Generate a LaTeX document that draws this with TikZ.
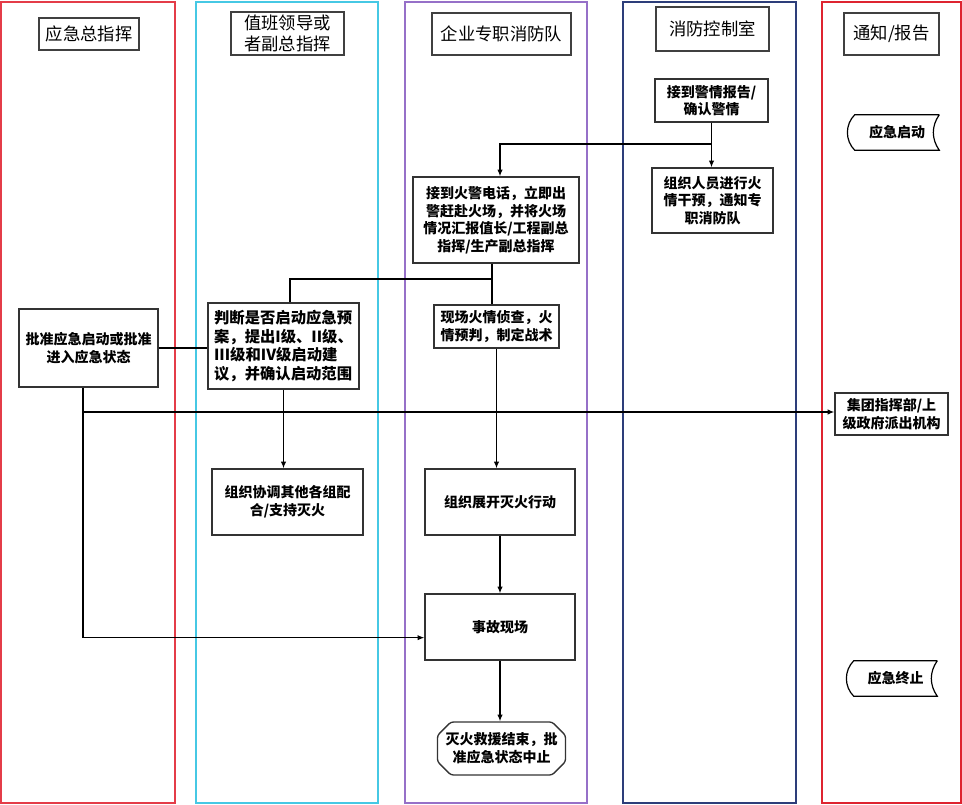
\documentclass[tikz,border=0pt]{standalone}
\usepackage{fontspec}
\setmainfont{Noto Sans CJK SC}
\usetikzlibrary{arrows.meta,shapes.misc}
\definecolor{laneA}{RGB}{228,60,72}
\definecolor{laneB}{RGB}{70,200,228}
\definecolor{laneC}{RGB}{150,112,200}
\definecolor{laneD}{RGB}{45,62,122}
\definecolor{laneE}{RGB}{222,36,48}
\begin{document}
\begin{tikzpicture}[x=0.75pt,y=-0.75pt,
    lane/.style={line width=1.4pt},
    head/.style={draw=black!75, line width=0.9pt, inner sep=1pt, align=center,
      font=\fontsize{13}{16}\selectfont},
    box/.style={draw=black!80, line width=1pt, inner sep=1pt, align=center,
      font=\fontsize{10.5}{13.2}\selectfont\bfseries},
    tag/.style={inner sep=1pt, font=\fontsize{10.5}{13.2}\selectfont\bfseries},
    link/.style={line width=0.9pt},
    arr/.style={link, -{Latex[length=5pt,width=4pt]}}]
    \useasboundingbox (0,0) rectangle (962,805);

    % swim lanes
    \draw[lane, laneA] (1,2) rectangle (175,803);
    \draw[lane, laneB] (196,2) rectangle (378,803);
    \draw[lane, laneC] (405,2) rectangle (587,803);
    \draw[lane, laneD] (623,2) rectangle (796,803);
    \draw[lane, laneE] (822,2) rectangle (961,803);

    % lane titles
    \node[head, minimum width=75pt, minimum height=24pt] (h1) at (89,34) {应急总指挥};
    \node[head, minimum width=84.75pt, minimum height=32.25pt] (h2) at (287.5,33.5) {值班领导或\\者副总指挥};
    \node[head, minimum width=104.25pt, minimum height=31.5pt] (h3) at (501.5,34) {企业专职消防队};
    \node[head, minimum width=84.75pt, minimum height=33pt] (h4) at (712.5,29) {消防控制室};
    \node[head, minimum width=71.25pt, minimum height=31.5pt] (h5) at (891.5,34) {通知/报告};

    % steps
    \node[box, minimum width=84.75pt, minimum height=32.25pt] (alarm) at (711.5,100.5) {接到警情报告/\\确认警情};
    \node[box, minimum width=124.5pt, minimum height=64.5pt] (call) at (496,220) {接到火警电话，立即出\\警赶赴火场，并将火场\\情况汇报值长/工程副总\\指挥/生产副总指挥};
    \node[box, minimum width=90.75pt, minimum height=48.75pt] (organize) at (712.5,200.5) {组织人员进行火\\情干预，通知专\\职消防队};
    \node[box, minimum width=104.25pt, minimum height=58.5pt] (approve) at (88.5,348) {批准应急启动或批准\\进入应急状态};
    \node[box, align=left, font=\fontsize{11.5}{14}\selectfont\bfseries, minimum width=113.25pt, minimum height=64.5pt] (judge) at (283.5,346) {判断是否启动应急预\\案，提出I级、II级、\\III级和IV级启动建\\议，并确认启动范围};
    \node[box, align=left, minimum width=93.75pt, minimum height=32.25pt] (scout) at (496.5,326.5) {现场火情侦查，火\\情预判，制定战术};
    \node[box, minimum width=84.75pt, minimum height=31.5pt] (group) at (891.5,414) {集团指挥部/上\\级政府派出机构};
    \node[box, minimum width=113.25pt, minimum height=49.5pt] (coord) at (287.5,502) {组织协调其他各组配\\合/支持灭火};
    \node[box, minimum width=112.5pt, minimum height=49.5pt] (fight) at (500,502) {组织展开灭火行动};
    \node[box, minimum width=112.5pt, minimum height=49.5pt] (scene) at (500,627) {事故现场};
    \node[box, chamfered rectangle, chamfered rectangle xsep=5pt, chamfered rectangle ysep=5pt,
      rounded corners=2pt, minimum width=92.25pt, minimum height=39.75pt] (finish) at (501.5,748.5) {灭火救援结束，批\\准应急状态中止};

    % start and end tags
    \node[tag, minimum width=63pt, minimum height=26.25pt] (start) at (897,132.5) {应急启动};
    \node[tag, minimum width=62.25pt, minimum height=26.25pt] (stop) at (895.5,678.5) {应急终止};
    \draw[link] (start.north east) -- (start.north west) to[bend right=45] (start.south west)
      -- (start.south east) to[bend left=35] (start.north east);
    \draw[link] (stop.north east) -- (stop.north west) to[bend right=45] (stop.south west)
      -- (stop.south east) to[bend left=35] (stop.north east);

    % junctions
    \coordinate (j1) at (500,144);
    \coordinate (j2) at (492,279);
    \coordinate (j3) at (290,279);
    \coordinate (j4) at (83,412);

    % connectors
    \draw[arr] (alarm.south) -- (alarm.south |- organize.north);
    \draw[arr] (alarm.south) |- (j1) -- (j1 |- call.north);
    \draw[link] (call.south -| j2) -- (j2) -- (j2 |- scout.north);
    \draw[link] (j2) -- (j3) -- (j3 |- judge.north);
    \draw[link] (approve.east) -- (approve.east -| judge.west);
    \draw[link] (approve.south -| j4) -- (j4);
    \draw[arr] (j4) -- (j4 -| group.west);
    \draw[arr] (j4) |- ([yshift=-8pt]scene.west);
    \draw[arr] (judge.south) -- (judge.south |- coord.north);
    \draw[arr] (scout.south) -- (scout.south |- fight.north);
    \draw[arr] (fight.south) -- (scene.north);
    \draw[arr] (scene.south) -- (scene.south |- finish.north);
\end{tikzpicture}
\end{document}
